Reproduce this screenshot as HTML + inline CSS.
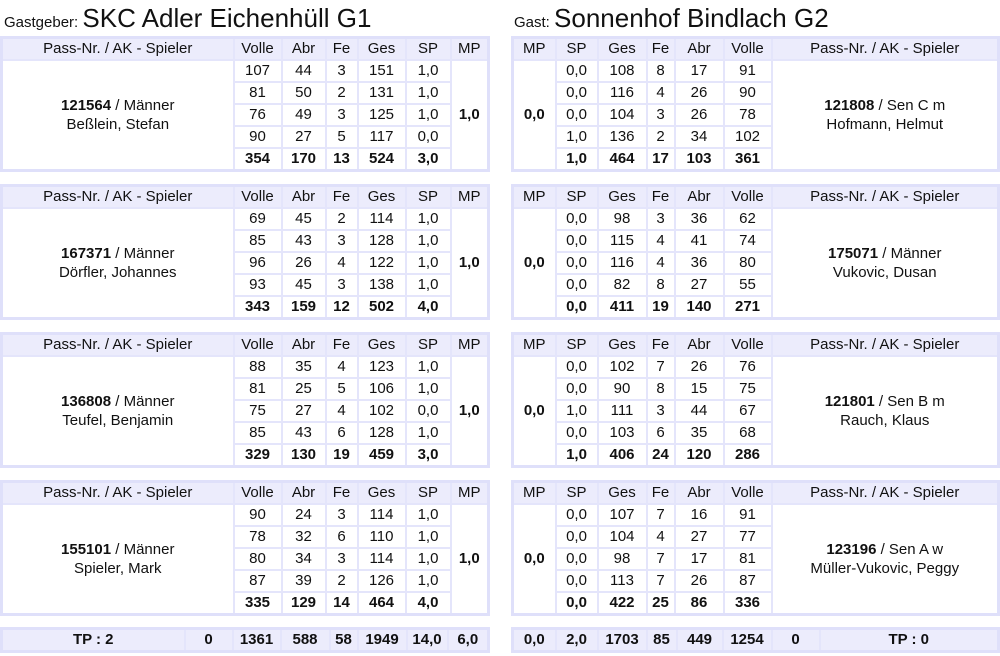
<!DOCTYPE html>
<html><head><meta charset="utf-8"><style>
body{margin:0;width:1000px;height:656px;background:#fff;font-family:"Liberation Sans",sans-serif;color:#111;position:relative;overflow:hidden}
.t{position:absolute;border-collapse:collapse;table-layout:fixed;font-size:15px;border:3px solid #dfe0fa}
.t td{border:2px solid #e4e5fb;text-align:center;padding:0;height:20px;line-height:20px;white-space:nowrap}
.t tr.h td{background:#ececfc;height:20px}
.t tr.s td{font-weight:bold}
.p{line-height:19px!important}
.ttl{position:absolute;top:3px;font-size:15px}
.ttl span{font-size:26px}
.L{left:0;width:490px}
.R{left:511px;width:489px}
.f td{background:#ececfc;font-weight:bold;height:20px}
</style></head><body>
<div class="ttl" style="left:4px">Gastgeber: <span>SKC Adler Eichenhüll G1</span></div>
<div class="ttl" style="left:514px">Gast: <span>Sonnenhof Bindlach G2</span></div>

<table class="t L" style="top:36px"><colgroup><col style="width:232px"><col style="width:48px"><col style="width:44px"><col style="width:32px"><col style="width:48px"><col style="width:45px"><col></colgroup>
<tr class="h"><td>Pass-Nr. / AK - Spieler</td><td>Volle</td><td>Abr</td><td>Fe</td><td>Ges</td><td>SP</td><td>MP</td></tr>
<tr><td rowspan="5" class="p"><b>121564</b> / Männer<br>Beßlein, Stefan</td><td>107</td><td>44</td><td>3</td><td>151</td><td>1,0</td><td rowspan="5"><b>1,0</b></td></tr>
<tr><td>81</td><td>50</td><td>2</td><td>131</td><td>1,0</td></tr>
<tr><td>76</td><td>49</td><td>3</td><td>125</td><td>1,0</td></tr>
<tr><td>90</td><td>27</td><td>5</td><td>117</td><td>0,0</td></tr>
<tr class="s"><td>354</td><td>170</td><td>13</td><td>524</td><td>3,0</td></tr></table>

<table class="t L" style="top:184px"><colgroup><col style="width:232px"><col style="width:48px"><col style="width:44px"><col style="width:32px"><col style="width:48px"><col style="width:45px"><col></colgroup>
<tr class="h"><td>Pass-Nr. / AK - Spieler</td><td>Volle</td><td>Abr</td><td>Fe</td><td>Ges</td><td>SP</td><td>MP</td></tr>
<tr><td rowspan="5" class="p"><b>167371</b> / Männer<br>Dörfler, Johannes</td><td>69</td><td>45</td><td>2</td><td>114</td><td>1,0</td><td rowspan="5"><b>1,0</b></td></tr>
<tr><td>85</td><td>43</td><td>3</td><td>128</td><td>1,0</td></tr>
<tr><td>96</td><td>26</td><td>4</td><td>122</td><td>1,0</td></tr>
<tr><td>93</td><td>45</td><td>3</td><td>138</td><td>1,0</td></tr>
<tr class="s"><td>343</td><td>159</td><td>12</td><td>502</td><td>4,0</td></tr></table>

<table class="t L" style="top:332px"><colgroup><col style="width:232px"><col style="width:48px"><col style="width:44px"><col style="width:32px"><col style="width:48px"><col style="width:45px"><col></colgroup>
<tr class="h"><td>Pass-Nr. / AK - Spieler</td><td>Volle</td><td>Abr</td><td>Fe</td><td>Ges</td><td>SP</td><td>MP</td></tr>
<tr><td rowspan="5" class="p"><b>136808</b> / Männer<br>Teufel, Benjamin</td><td>88</td><td>35</td><td>4</td><td>123</td><td>1,0</td><td rowspan="5"><b>1,0</b></td></tr>
<tr><td>81</td><td>25</td><td>5</td><td>106</td><td>1,0</td></tr>
<tr><td>75</td><td>27</td><td>4</td><td>102</td><td>0,0</td></tr>
<tr><td>85</td><td>43</td><td>6</td><td>128</td><td>1,0</td></tr>
<tr class="s"><td>329</td><td>130</td><td>19</td><td>459</td><td>3,0</td></tr></table>

<table class="t L" style="top:480px"><colgroup><col style="width:232px"><col style="width:48px"><col style="width:44px"><col style="width:32px"><col style="width:48px"><col style="width:45px"><col></colgroup>
<tr class="h"><td>Pass-Nr. / AK - Spieler</td><td>Volle</td><td>Abr</td><td>Fe</td><td>Ges</td><td>SP</td><td>MP</td></tr>
<tr><td rowspan="5" class="p"><b>155101</b> / Männer<br>Spieler, Mark</td><td>90</td><td>24</td><td>3</td><td>114</td><td>1,0</td><td rowspan="5"><b>1,0</b></td></tr>
<tr><td>78</td><td>32</td><td>6</td><td>110</td><td>1,0</td></tr>
<tr><td>80</td><td>34</td><td>3</td><td>114</td><td>1,0</td></tr>
<tr><td>87</td><td>39</td><td>2</td><td>126</td><td>1,0</td></tr>
<tr class="s"><td>335</td><td>129</td><td>14</td><td>464</td><td>4,0</td></tr></table>

<table class="t R" style="top:36px"><colgroup><col style="width:43px"><col style="width:42px"><col style="width:49px"><col style="width:28px"><col style="width:49px"><col style="width:48px"><col></colgroup>
<tr class="h"><td>MP</td><td>SP</td><td>Ges</td><td>Fe</td><td>Abr</td><td>Volle</td><td>Pass-Nr. / AK - Spieler</td></tr>
<tr><td rowspan="5"><b>0,0</b></td><td>0,0</td><td>108</td><td>8</td><td>17</td><td>91</td><td rowspan="5" class="p"><b>121808</b> / Sen C m<br>Hofmann, Helmut</td></tr>
<tr><td>0,0</td><td>116</td><td>4</td><td>26</td><td>90</td></tr>
<tr><td>0,0</td><td>104</td><td>3</td><td>26</td><td>78</td></tr>
<tr><td>1,0</td><td>136</td><td>2</td><td>34</td><td>102</td></tr>
<tr class="s"><td>1,0</td><td>464</td><td>17</td><td>103</td><td>361</td></tr></table>

<table class="t R" style="top:184px"><colgroup><col style="width:43px"><col style="width:42px"><col style="width:49px"><col style="width:28px"><col style="width:49px"><col style="width:48px"><col></colgroup>
<tr class="h"><td>MP</td><td>SP</td><td>Ges</td><td>Fe</td><td>Abr</td><td>Volle</td><td>Pass-Nr. / AK - Spieler</td></tr>
<tr><td rowspan="5"><b>0,0</b></td><td>0,0</td><td>98</td><td>3</td><td>36</td><td>62</td><td rowspan="5" class="p"><b>175071</b> / Männer<br>Vukovic, Dusan</td></tr>
<tr><td>0,0</td><td>115</td><td>4</td><td>41</td><td>74</td></tr>
<tr><td>0,0</td><td>116</td><td>4</td><td>36</td><td>80</td></tr>
<tr><td>0,0</td><td>82</td><td>8</td><td>27</td><td>55</td></tr>
<tr class="s"><td>0,0</td><td>411</td><td>19</td><td>140</td><td>271</td></tr></table>

<table class="t R" style="top:332px"><colgroup><col style="width:43px"><col style="width:42px"><col style="width:49px"><col style="width:28px"><col style="width:49px"><col style="width:48px"><col></colgroup>
<tr class="h"><td>MP</td><td>SP</td><td>Ges</td><td>Fe</td><td>Abr</td><td>Volle</td><td>Pass-Nr. / AK - Spieler</td></tr>
<tr><td rowspan="5"><b>0,0</b></td><td>0,0</td><td>102</td><td>7</td><td>26</td><td>76</td><td rowspan="5" class="p"><b>121801</b> / Sen B m<br>Rauch, Klaus</td></tr>
<tr><td>0,0</td><td>90</td><td>8</td><td>15</td><td>75</td></tr>
<tr><td>1,0</td><td>111</td><td>3</td><td>44</td><td>67</td></tr>
<tr><td>0,0</td><td>103</td><td>6</td><td>35</td><td>68</td></tr>
<tr class="s"><td>1,0</td><td>406</td><td>24</td><td>120</td><td>286</td></tr></table>

<table class="t R" style="top:480px"><colgroup><col style="width:43px"><col style="width:42px"><col style="width:49px"><col style="width:28px"><col style="width:49px"><col style="width:48px"><col></colgroup>
<tr class="h"><td>MP</td><td>SP</td><td>Ges</td><td>Fe</td><td>Abr</td><td>Volle</td><td>Pass-Nr. / AK - Spieler</td></tr>
<tr><td rowspan="5"><b>0,0</b></td><td>0,0</td><td>107</td><td>7</td><td>16</td><td>91</td><td rowspan="5" class="p"><b>123196</b> / Sen A w<br>Müller-Vukovic, Peggy</td></tr>
<tr><td>0,0</td><td>104</td><td>4</td><td>27</td><td>77</td></tr>
<tr><td>0,0</td><td>98</td><td>7</td><td>17</td><td>81</td></tr>
<tr><td>0,0</td><td>113</td><td>7</td><td>26</td><td>87</td></tr>
<tr class="s"><td>0,0</td><td>422</td><td>25</td><td>86</td><td>336</td></tr></table>

<table class="t L f" style="top:627px"><colgroup><col style="width:183px"><col style="width:48px"><col style="width:48px"><col style="width:49px"><col style="width:28px"><col style="width:49px"><col style="width:41px"><col></colgroup>
<tr><td>TP : 2</td><td>0</td><td>1361</td><td>588</td><td>58</td><td>1949</td><td>14,0</td><td>6,0</td></tr></table>
<table class="t R f" style="top:627px"><colgroup><col style="width:43px"><col style="width:42px"><col style="width:49px"><col style="width:30px"><col style="width:46px"><col style="width:49px"><col style="width:48px"><col></colgroup>
<tr><td>0,0</td><td>2,0</td><td>1703</td><td>85</td><td>449</td><td>1254</td><td>0</td><td>TP : 0</td></tr></table>
</body></html>
